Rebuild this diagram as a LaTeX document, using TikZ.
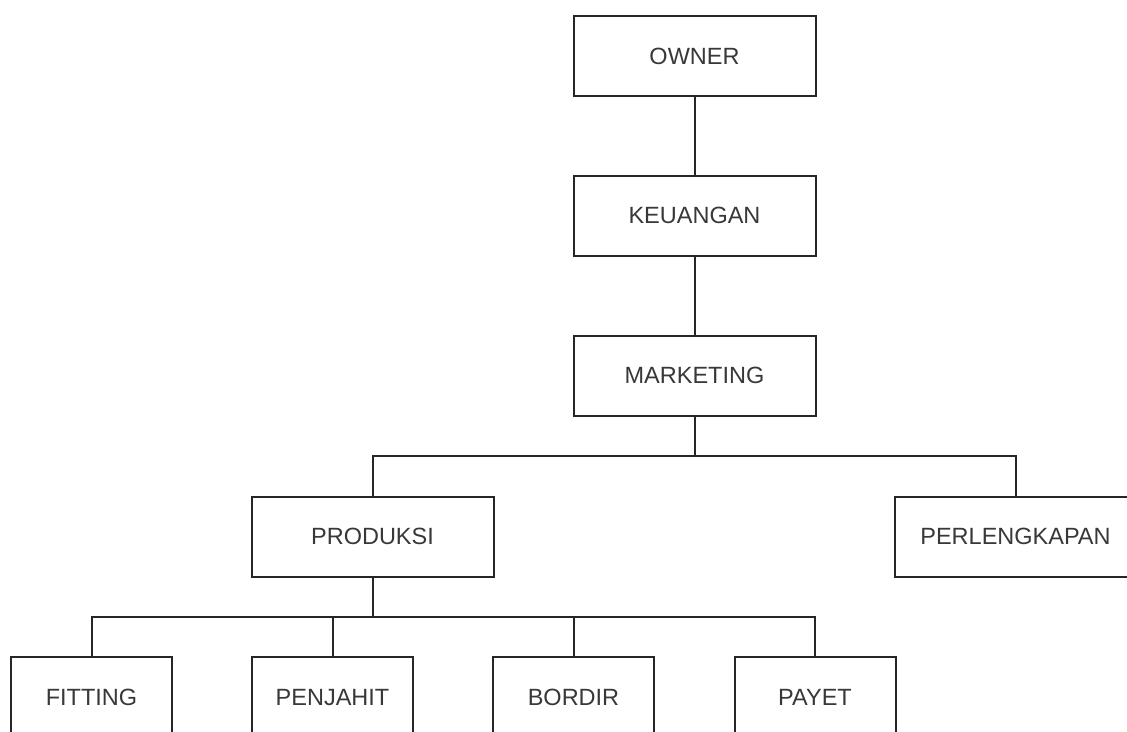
\documentclass[tikz,border=0pt]{standalone}
\usepackage{fontspec}
\setmainfont{Liberation Sans}
\begin{document}
\begin{tikzpicture}[x=1pt,y=-1pt,
  box/.style={draw=black!85, line width=2pt, fill=white, minimum width=242pt, minimum height=80pt, inner sep=0pt, font=\fontsize{23.5}{27}\selectfont, text=black!78, text height=16.8pt, text depth=0pt},
  smallbox/.style={box, minimum width=161pt},
  link/.style={draw=black!85, line width=2pt}]
\useasboundingbox (0,0) rectangle (1127,731);
\clip (0,0) rectangle (1127,731);
\fill[white] (0,0) rectangle (1127,731);
\node[box] (owner) at (694.5,56) {OWNER};
\node[box] (keu) at (694.5,215.5) {KEUANGAN};
\node[box] (mark) at (694.5,375.5) {MARKETING};
\node[box] (prod) at (372.5,536.5) {PRODUKSI};
\node[box] (perl) at (1015.5,536.5) {PERLENGKAPAN};
\node[smallbox] (fit) at (91.5,697) {FITTING};
\node[smallbox] (pen) at (332.5,697) {PENJAHIT};
\node[smallbox] (bor) at (573.5,697) {BORDIR};
\node[smallbox] (pay) at (815,697) {PAYET};
\coordinate (j1) at (694.5,456);
\coordinate (j2) at (372.5,617);
\draw[link] (owner.south) -- (keu.north);
\draw[link] (keu.south) -- (mark.north);
\draw[link] (mark.south) -- (j1);
\draw[link] (j1) -| (prod.north);
\draw[link] (j1) -| (perl.north);
\draw[link] (prod.south) -- (j2);
\draw[link] (j2) -| (fit.north);
\draw[link] (j2) -| (pen.north);
\draw[link] (j2) -| (bor.north);
\draw[link] (j2) -| (pay.north);
\end{tikzpicture}
\end{document}
